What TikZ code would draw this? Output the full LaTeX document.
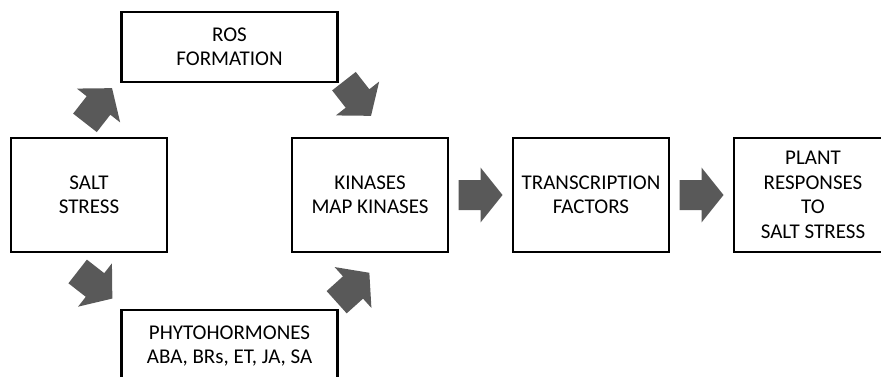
\documentclass[tikz,border=0pt]{standalone}
\usepackage{fontspec}
\setmainfont{Carlito}
\usetikzlibrary{positioning,calc}

\begin{document}
\begin{tikzpicture}[x=1pt,y=1pt,
    box/.style={draw,line width=2.6pt,outer sep=0pt,inner sep=2pt,align=center,
      minimum width=156pt,minimum height=114pt,font=\fontsize{21}{24.5}\selectfont},
    wide/.style={box,minimum width=216pt,minimum height=70pt},
    bigarrow/.pic={\fill[black!65] (-22,-15) -- (0,-15) -- (0,-27.5) -- (22,0)
      -- (0,27.5) -- (0,15) -- (-22,15) -- cycle;}]
            \useasboundingbox (0,-377) rectangle (881,0);
            \clip (0,-377) rectangle (881,0);

            \node[box]  (salt)  at (89,-195)          {SALT\\STRESS};
            \node[box]  (kin)   [right=125pt of salt] {KINASES\\MAP KINASES};
            \node[box]  (trans) [right=65pt of kin]   {TRANSCRIPTION\\FACTORS};
            \node[box,minimum width=158pt] (plant) [right=65pt of trans]
                                                      {PLANT\\RESPONSES\\TO\\SALT STRESS};

            \coordinate (top) at ($(salt.north)!0.5!(kin.north)$);
            \coordinate (bot) at ($(salt.south)!0.5!(kin.south)$);
            \node[wide] (ros)   [above=56pt of top]  {ROS\\FORMATION};
            \node[wide,minimum height=72pt] (phyto) [below=58pt of bot]
                                                      {PHYTOHORMONES\\ABA, BRs, ET, JA, SA};

            \pic[rotate=52]  (a1) at ($(salt.north)+(9.5,32.5)$)  {bigarrow};
            \pic[rotate=-52] (a2) at ($(kin.north)+(-12.5,39.5)$) {bigarrow};
            \pic[rotate=-38] (a3) at ($(salt.south)+(6,-33)$)     {bigarrow};
            \pic[rotate=42]  (a4) at ($(kin.south)+(-17,-35.5)$)  {bigarrow};
            \pic (a5) at ($(kin.east)!0.5!(trans.west)$)   {bigarrow};
            \pic (a6) at ($(trans.east)!0.5!(plant.west)$) {bigarrow};

          \end{tikzpicture}
\end{document}
